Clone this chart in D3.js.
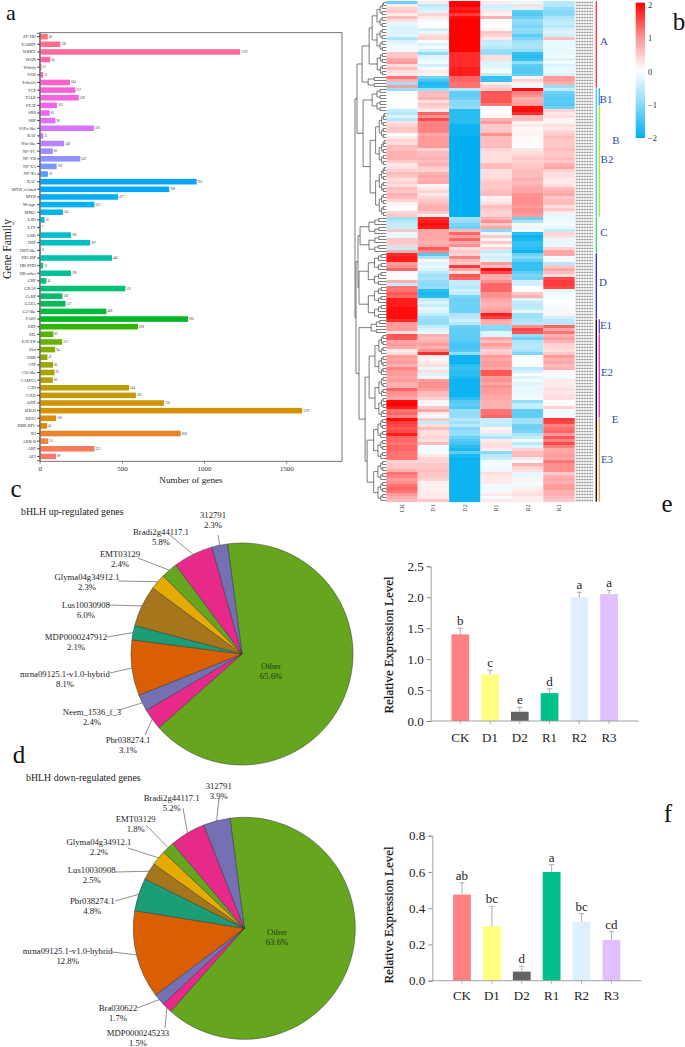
<!DOCTYPE html>
<html>
<head>
<meta charset="utf-8">
<script src="https://cdn.jsdelivr.net/npm/d3@7"></script>
<style>
  html, body { margin: 0; padding: 0; background: #fff; }
  svg { display: block; }
  text { font-family: "Liberation Serif", serif; fill: #222; }
</style>
</head>
<body>
<div id="container"></div>
<script>
// ---- panel a: number of genes per family
var families = ["ZF-HD","YABBY","WRKY","WOX","Whirly","VOZ","Trihelix","TCP","TALE","STAT","SRS","SBP","S1Fa-like","RAV",
  "Nin-like","NF-YC","NF-YB","NF-YA","NF-X1","NAC","MYB_related","MYB","M-type","MIKC","LSD","LFY","LBD","HSF","HRT-like",
  "HD-ZIP","HB-PHD","HB-other","GRF","GRAS","GeBP","GATA","G2-like","FAR1","ERF","EIL","E2F/DP","Dof","DBB","CPP","CO-like",
  "CAMTA","C3H","C2H2","bZIP","bHLH","BES1","BBR-BPC","B3","ARR-B","ARF","AP2"];
var familyCounts = [49,126,1219,64,12,21,184,217,238,105,61,96,330,21,
  148,80,247,103,50,955,788,477,333,141,30,7,190,307,8,
  440,21,190,41,521,138,157,406,903,598,83,137,94,47,82,90,
  80,544,585,756,1597,100,45,858,53,333,99];
var countTicks = [0,500,1000,1500];

// ---- panel b: heatmap, one array per sample, rows top to bottom
var heatSamples = ["CK","D1","D2","R1","R2","R3"];
var heatCK = [-1.2,.15,.4,.5,.2,.6,.3,-.2,-.3,-.3,-.3,-.25,-.7,-.3,-.15,-.1,-.1,.5,.5,.8,.9,.3,.6,.3,.2,1.2,.7,-.8,.9,-.9,
  -.03,-.03,-.03,-.03,-.03,-.05,-.5,-.6,-.3,-.6,.3,.4,.5,.5,0,.2,.4,.3,.6,.6,.7,.7,.7,.5,.2,.3,
  .4,.6,.5,.3,.4,.3,.6,.5,.7,.6,.4,.1,.05,.02,.4,.5,
  -.8,-.6,-.5,-.5,.5,-.2,-.2,.5,.5,.4,-.5,.7,
  1.7,1.8,1.8,.9,1,1.3,.05,.03,.05,.7,-.5,1.2,
  1.2,1.4,1.3,1.8,1.8,1.8,1.9,1.9,1.9,1.9,1.7,.9,.9,.9,.3,1.4,
  1.4,.8,.9,.8,.2,.3,.9,.8,.9,.7,1.1,.9,.9,.8,.9,.7,.7,1.3,1,.9,.8,1.9,2,1.8,1.2,1.3,1.1,1.9,1.6,1.5,1.4,1.5,1.8,1.3,1.3,1.2,1.3,1.3,1.2,1.2,1.2,
  .4,.5,.5,.7,1.2,1.1,.9,1,1.2,1.3,1.2,.9,.7,.6];
var heatD1 = [.2,-.6,-.4,-.3,.4,.2,-.1,0,0,-.4,-.2,.3,.4,-.05,-.3,-.1,-.4,-.9,-.3,-.2,-.1,-.4,-.1,.2,.1,-1.2,-1.5,-1.8,-1.7,-.9,
  .6,.6,.7,.3,.5,.4,.2,1.3,1,1.5,1.1,1.1,1.1,1.1,.8,.9,.9,.9,.9,.4,.6,.6,.7,.6,.7,.5,
  .4,.7,.8,.7,.8,.1,.2,.4,.2,.4,.5,.6,.7,.7,.5,.1,
  1.7,1.8,1.9,1.8,.8,.8,.8,.8,.7,.8,1.4,1.1,
  -1.4,-.7,.1,-.3,-.2,-.3,-.6,-.8,-.7,-.9,-1,-.9,
  -1.7,-1.8,-1.7,-.5,-.3,-.5,-.2,-.3,-.5,-.8,-.9,-.9,-.5,-.3,-.2,.7,
  .6,.7,.9,.7,1,1.7,.2,.1,.2,.3,-.2,.3,-.3,.1,.9,1,1,.9,.6,.6,.4,.1,-.1,.5,.8,.2,-.1,.5,-.5,.3,.6,.3,.3,.4,.3,.6,-.1,-.1,-.1,.2,.4,
  .4,.5,.5,.6,.5,.5,.4,.15,.15,.15,.15,.2,.2,.5];
var heatD2 = [2,2,1.8,1.9,1.6,1.9,2,2,2,2,2,2,2,2,2,2,2,1.7,1.7,1.7,1.7,1.7,1.8,1.8,1.8,1.3,1.3,1.2,1.2,-.6,
  -1.3,-1.3,-1.2,-1,-1,-.9,-1.7,-1.7,-1.7,-1.7,-1.7,-1.9,-1.9,-1.9,-1.9,-2,-2,-2,-2,-2,-2,-2,-2,-2,-2,-2,
  -2,-2,-2,-2,-2,-2,-2,-2,-2,-2,-2,-2,-2,-2,-2,-2,
  -.8,-.9,-1.1,-1.2,.6,1.3,.9,1.3,.8,1,.3,.5,
  .4,1.1,.6,.5,1.6,.8,.3,1.4,1.3,-.5,-.5,-.6,
  -.4,-.5,-1.1,-1.2,-1.2,-1.2,-1.2,-1.2,-.7,-.6,-.4,-.6,-1.2,-1.3,-1.3,-1.3,
  -1.3,-1.4,-1.5,-1.5,-1.4,-.9,-1.9,-1.9,-1.9,-1.7,-1.6,-1.7,-1.7,-1.8,-1.9,-1.9,-1.9,-1.9,-1.9,-1.9,-1.7,-1.4,-1.3,-1.4,-.9,-.9,-.9,-.6,-.8,-.6,-1,-.9,-.9,-1.2,-1.4,-1.5,-1.7,-1.8,-1.3,-1.8,-1.9,
  -1.9,-1.9,-1.9,-1.9,-1.9,-1.9,-1.9,-1.9,-1.9,-1.9,-1.9,-1.9,-1.9,-1.9];
var heatR1 = [.2,-.4,-.4,.2,.1,.7,0,0,0,.1,.5,.4,.2,-.5,-.5,-.6,-.9,-.9,.3,.3,-.3,-.3,-.2,0,-.5,-1.6,-1.6,.2,.4,.5,
  1.4,1.4,1.4,1.4,1.2,0,0,0,.1,.7,.9,.5,.5,.5,1,.6,.6,.6,.6,.4,.3,.3,.3,.3,.6,.6,
  .3,.3,.3,.4,.5,.5,.5,.6,.6,.1,.2,.3,.6,.5,.4,.4,
  .7,1,.5,.8,-1,-.2,.5,.1,.5,.1,.4,-.5,
  -.3,-.4,-.3,.9,.6,1.9,1.5,.8,.7,1,1.3,1.3,
  1.3,1,1,.8,.7,.7,.8,.9,1.8,1.6,.8,.7,-1,-1,-.3,-.3,
  .8,.6,.9,.7,.4,.5,.9,.8,.9,.9,.8,1.4,1.4,.9,1,.8,1,.9,.9,.8,.8,.7,.7,.7,1.2,1.2,1.3,-.5,-.5,-.5,.1,.2,-.4,-.7,.2,.3,.3,.2,-1,-.6,-.5,
  -.1,-.1,-.1,-.15,.3,.2,.2,.2,-.1,-.15,-.1,.2,-.1,.2];
var heatR2 = [-.2,.3,-.3,-1.3,-1.4,-1.2,-.9,-1,-1.1,-.9,-1,-1.3,-1.1,-.8,-.7,-.7,-.9,-1.6,-1.7,-1.6,-.9,-1.3,-1.4,-1.4,-1.3,.1,.4,.1,-.2,1.9,
  1.1,1,.7,.8,.9,1.9,1.9,1.7,.6,.6,.1,.2,.05,.1,.1,.05,.05,.03,.01,.2,.3,.4,.5,.4,.5,.5,
  .6,.6,.6,.7,.6,.7,.8,.8,1,1,1,1,.9,1,1,.9,
  -1.2,-.7,.1,-.2,-.1,-1.7,-1.9,-1.8,-1.6,-1.6,-1.7,-1.9,
  -1.2,-1,-1.3,-1.6,-1.6,-1.6,-1.3,-1.1,-1.2,-.4,-.4,0,
  0,.5,.7,-.3,-.5,-.6,-.5,-.2,-.8,-.8,-.7,-.6,1,1.5,1.4,-.9,
  -1.2,-.7,-.6,-.6,-.7,-1.1,-.03,-.03,-.03,-.05,-.6,-.4,0,-.3,-.1,-.3,-.2,-.2,-.2,-.15,-.1,-.9,-.5,-.5,-1.3,-1.3,-1.3,-.8,-.8,-1.2,-1.2,-1.1,-.7,-.5,-.1,-.6,-.3,.4,.6,.6,.2,
  0,.7,.4,.3,-.2,-.2,.1,-.1,-.1,.15,.2,.3,.15,.15];
var heatR3 = [-.6,-.6,-.9,-1,-1,-.7,-.6,-.5,-.6,-.4,-.3,-.4,.6,-.2,-.2,-.2,-.2,-.2,-.1,-.3,-.1,-.3,-.2,-.2,-.3,.9,.9,.7,-.9,-.5,
  -1.2,-1.3,-1.4,-1.3,-1.4,-1.2,.4,.2,.3,.1,.1,.3,.2,.4,.5,.6,.5,.5,.5,.6,.5,.5,.6,.5,.7,.8,
  .4,.3,.3,.2,.2,.3,.6,.7,.8,.5,.6,.6,.3,.5,.2,-.2,
  -.2,-.1,-.1,-.2,-.5,.4,.3,-.2,-.2,-.2,.4,.8,
  .8,-.1,-.1,-.6,.5,.8,.6,.3,1.5,1.6,1.6,1.5,
  -.2,-.1,-.1,-.05,0,-.05,-.1,-.1,.1,-.4,-.6,-.6,1.3,.8,1.2,.7,
  .9,.7,.4,.4,.3,.5,.9,.7,.8,.6,.7,.1,-.1,-.1,.2,.2,.2,.3,.2,.3,.3,-.05,.05,.4,-.1,-.1,-.1,1.6,1.5,1.1,1.2,1.3,.9,1.4,1.1,1.5,1.1,.8,.8,.9,.8,
  1.2,1,1,1,.5,.7,.8,.7,.9,.9,.7,.7,.6,.5];
var heatLegendTicks = [-2,-1,0,1,2];

// row clusters shown beside the heatmap
var clusterNames = ["A","B","B1","B2","C","D","E","E1","E2","E3"];
var clusterFirstRow = [0,29,29,35,72,84,106,106,111,139];
var clusterLastRow = [28,71,34,71,83,105,166,110,138,166];

// dendrogram: [height, child, child], two plain numbers = a run of rows
var dendroTree = [31,
  [29,
    [24, [17, [14,0,16], [9,17,24]], [18,25,28]],
    [23, [14,29,36], [16,37,71]]],
  [30,
    [28, [26,72,83], [27,84,105]],
    [27, [15,106,110], [21, [17,111,138], [19,139,166]]]]];

// ---- panels c and d: pie charts
var upNames = ["Other","Pbr038274.1","Neem_1536_f_3","mrna09125.1-v1.0-hybrid","MDP0000247912","Lus10030908","Glyma04g34912.1","EMT03129","Bradi2g44117.1","312791"];
var upPercent = [65.6,3.1,2.4,8.1,2.1,6.0,2.3,2.4,5.8,2.3];
var downNames = ["Other","MDP0000245233","Bra030622","mrna09125.1-v1.0-hybrid","Pbr038274.1","Lus10030908","Glyma04g34912.1","EMT03129","Bradi2g44117.1","312791"];
var downPercent = [63.6,1.5,1.7,12.8,4.8,2.5,2.2,1.8,5.2,3.9];

// ---- panels e and f: expression bars
var exprSamples = ["CK","D1","D2","R1","R2","R3"];
var exprE = [1.4,0.75,0.15,0.45,2.0,2.05];
var exprEErr = [0.1,0.07,0.07,0.07,0.08,0.06];
var exprELetters = ["b","c","e","d","a","a"];
var exprETicks = [0,0.5,1,1.5,2,2.5];
var exprF = [0.475,0.3,0.05,0.6,0.325,0.225];
var exprFErr = [0.065,0.11,0.03,0.04,0.045,0.045];
var exprFLetters = ["ab","bc","d","a","bc","cd"];
var exprFTicks = [0,0.2,0.4,0.6,0.8];

// ---- layout and styling, kept apart from the values
var width = 685, height = 1047;
var serif = "Liberation Serif";
var sliceColors = ["#66A61E","#E7298A","#7570B3","#D95F02","#1B9E77","#A6761D","#E6AB02","#66A61E","#E7298A","#7570B3"];
var barColors = ["#FF8080","#FFFF80","#636363","#00C08B","#DFEFFF","#E0C0FF"];
var clusterColors = ["#FF3838","#38D8F0","#30B4F0","#B8E820","#38E068","#3030E8","#111111","#8040F0","#F030E8","#F8A040"];

var svg = d3.select("#container").append("svg").attr("width", width).attr("height", height);

// panel letters
var panelLetters = [["a",11,19.6,22],["b",679,30,25],["c",16,497,25],["d",19,763,25],["e",667,512,25],["f",668,822,25]];
svg.selectAll(".letter").data(panelLetters).enter().append("text")
  .attr("class", "letter")
  .attr("x", function(d) { return d[1]; }).attr("y", function(d) { return d[2]; })
  .attr("text-anchor", "middle").attr("font-size", function(d) { return d[3]; }).style("fill", "#111")
  .text(function(d) { return d[0]; });

drawFamilyBars();
drawHeatmap();
drawPie(upNames, upPercent, {
  cx: 242, cy: 654, r: 111, start: -7.5,
  title: "bHLH up-regulated genes", titleX: 21, titleY: 515,
  other: [271, 669],
  // label centre and leader start, same order as the names (Other skipped)
  labels: [[128,743,145,735],[92,715,119,710],[65,677,110,673],[76,640,107,637],[86,608,108,605],[87,580,118,581],[120,557,138,558],[161,535,170,535],[213,518,218,535]]
});
drawPie(downNames, downPercent, {
  cx: 244.3, cy: 928.3, r: 111, start: -7.4,
  title: "bHLH down-regulated genes", titleX: 26, titleY: 781,
  other: [277, 935],
  labels: [[138,1036,165,1028],[118,1011,137,1008],[67.7,954,112,952],[92.3,903.7,115,901],[91.7,873,115,872],[99,845,128,848],[135.7,822,146,825],[171.7,800.7,183,808],[218.7,788.7,219,798]]
});
drawExpression({
  values: exprE, err: exprEErr, letters: exprELetters, ticks: exprETicks, max: 2.5,
  axisX: 430.7, axisEnd: 638.7, y0: 721, y1: 566.3, bandStart: 451.45, bandEnd: 617.9, catY: 742, labelCy: 645
});
drawExpression({
  values: exprF, err: exprFErr, letters: exprFLetters, ticks: exprFTicks, max: 0.8,
  axisX: 432.3, axisEnd: 641.3, y0: 980.7, y1: 835.7, bandStart: 453.1, bandEnd: 620.3, catY: 1000, labelCy: 915
});

// ggplot's default hue colours are polar LUV at C=100, L=65
function hueColor(h) {
  var L = 65, C = 100, a = h * Math.PI / 180;
  var Y = Math.pow((L + 16) / 116, 3);
  var up = C * Math.cos(a) / (13 * L) + 0.1978398;
  var vp = C * Math.sin(a) / (13 * L) + 0.4683363;
  var X = 9 * Y * up / (4 * vp);
  var Z = -X / 3 - 5 * Y + 3 * Y / vp;
  var gamma = function(c) {
    c = Math.max(0, Math.min(1, c));
    return 255 * (c <= 0.0031308 ? 12.92 * c : 1.055 * Math.pow(c, 1 / 2.4) - 0.055);
  };
  return d3.rgb(
    gamma(3.2406 * X - 1.5372 * Y - 0.4986 * Z),
    gamma(-0.9689 * X + 1.8758 * Y + 0.0415 * Z),
    gamma(0.0557 * X - 0.2040 * Y + 1.0570 * Z)
  ) + "";
}

function drawFamilyBars() {
  var x = d3.scaleLinear().domain([0, 1839]).range([39.7, 342]);
  var y = d3.scaleBand().domain(families).range([32.9, 460.2]).paddingInner(0.27).paddingOuter(0.13);

  // hue wheel runs from the bottom row up
  var hue = function(i) {
    var k = families.length - 1 - i;
    return hueColor(15 + 360 * k / families.length);
  };

  svg.append("rect").attr("x", 39.7).attr("y", 32.7).attr("width", 302.3).attr("height", 428.6)
    .attr("fill", "none").attr("stroke", "#555").attr("stroke-width", 0.8);

  svg.selectAll(".fam").data(families).enter().append("rect")
    .attr("class", "fam")
    .attr("x", x(0))
    .attr("y", function(d) { return y(d); })
    .attr("width", function(d, i) { return x(familyCounts[i]) - x(0); })
    .attr("height", y.bandwidth())
    .attr("fill", function(d, i) { return hue(i); });

  svg.selectAll(".famv").data(families).enter().append("text")
    .attr("class", "famv")
    .attr("x", function(d, i) { return x(familyCounts[i]) + 1; })
    .attr("y", function(d) { return y(d) + y.bandwidth() / 2 + 1; })
    .attr("font-size", 3.2).style("fill", "#333")
    .text(function(d, i) { return familyCounts[i]; });

  var left = svg.append("g").attr("transform", "translate(39.7,0)")
    .call(d3.axisLeft(y).tickSize(2.5).tickPadding(1.2));
  left.select(".domain").attr("stroke", "#777").attr("stroke-width", 1.2);
  left.selectAll("text").attr("font-size", 4.4).attr("font-family", serif).style("fill", "#333");
  left.selectAll("line").attr("stroke", "#222").attr("stroke-width", 0.9);

  var bottom = svg.append("g").attr("transform", "translate(0,461.3)")
    .call(d3.axisBottom(x).tickValues(countTicks).tickSize(2.5).tickPadding(2).tickFormat(d3.format("d")));
  bottom.select(".domain").remove();
  bottom.selectAll("text").attr("font-size", 7).attr("font-family", serif).style("fill", "#333");
  bottom.selectAll("line").attr("stroke", "#444").attr("stroke-width", 0.6);

  svg.append("text").attr("x", 191).attr("y", 483).attr("text-anchor", "middle")
    .attr("font-size", 9.2).text("Number of genes");
  svg.append("text").attr("transform", "translate(10.5,249) rotate(-90)").attr("text-anchor", "middle")
    .attr("font-size", 11.6).text("Gene Family");
}

function drawHeatmap() {
  var columns = [heatCK, heatD1, heatD2, heatR1, heatR2, heatR3];
  var rows = d3.range(heatCK.length);
  var x = d3.scaleBand().domain(heatSamples).range([386.3, 574.7]);
  var y = d3.scaleBand().domain(rows).range([1, 502]);
  var color = d3.scaleLinear().domain([-2, -1, 0, 1, 2])
    .range(["#00B0F0", "#88DAF8", "#FFFFFF", "#FF9090", "#FF0000"]);

  var defs = svg.append("defs");
  // the source is a soft raster, rows bleed into each other a little
  defs.append("filter").attr("id", "soft").attr("x", "-2%").attr("y", "-2%").attr("width", "104%").attr("height", "104%")
    .append("feGaussianBlur").attr("stdDeviation", "0.25 0.45");

  var cells = svg.append("g").attr("filter", "url(#soft)");
  columns.forEach(function(values, c) {
    cells.append("g").selectAll("rect").data(values).enter().append("rect")
      .attr("x", x(heatSamples[c]))
      .attr("y", function(d, r) { return y(r); })
      .attr("width", x.bandwidth())
      .attr("height", y.bandwidth() + 0.15)
      .attr("fill", function(d) { return color(d); });
  });

  // row labels are too small to read in the source, so they stay a grey strip
  svg.append("g").selectAll("line").data(rows).enter().append("line")
    .attr("x1", 575.7).attr("x2", 593.3)
    .attr("y1", function(r) { return y(r) + y.bandwidth() / 2; })
    .attr("y2", function(r) { return y(r) + y.bandwidth() / 2; })
    .attr("stroke", "#8a8a8a").attr("stroke-width", 1.7).attr("stroke-dasharray", "1.1 0.5");

  // sample names below the heatmap
  svg.selectAll(".sample").data(heatSamples).enter().append("text")
    .attr("class", "sample")
    .attr("transform", function(d) { return "translate(" + (x(d) + x.bandwidth() / 2 + 2) + ",508) rotate(-90)"; })
    .attr("text-anchor", "middle").attr("font-size", 6).style("fill", "#333")
    .text(function(d) { return d; });

  // dendrogram
  var h = d3.scaleLinear().domain([0, 31]).range([386.3, 355]);
  var rowY = function(r) { return y(r) + y.bandwidth() / 2; };
  var segs = [];
  function walk(node) {
    var ht = node[0], a, b;
    if (typeof node[1] === "number") {
      var from = node[1], to = node[2];
      if (from === to) return { y: rowY(from), h: 0 };
      var mid = Math.floor((from + to) / 2);
      a = walk([ht * 0.66, from, mid]);
      b = walk([ht * 0.66, mid + 1, to]);
    } else {
      a = walk(node[1]);
      b = walk(node[2]);
    }
    segs.push([h(ht), a.y, h(ht), b.y]);
    segs.push([h(ht), a.y, h(a.h), a.y]);
    segs.push([h(ht), b.y, h(b.h), b.y]);
    return { y: (a.y + b.y) / 2, h: ht };
  }
  walk(dendroTree);
  svg.append("g").selectAll("line").data(segs).enter().append("line")
    .attr("x1", function(d) { return d[0]; }).attr("y1", function(d) { return d[1]; })
    .attr("x2", function(d) { return d[2]; }).attr("y2", function(d) { return d[3]; })
    .attr("stroke", "#444").attr("stroke-width", 0.7);

  // cluster bars; first level is the outer bar, second level sits next to it
  var inner = ["B1","B2","E1","E2","E3"];
  svg.selectAll(".clusterbar").data(clusterNames).enter().append("rect")
    .attr("class", "clusterbar")
    .attr("x", function(d) { return inner.indexOf(d) >= 0 ? 598.6 : 595.6; })
    .attr("y", function(d, i) { return y(clusterFirstRow[i]) + 0.3; })
    .attr("width", 1.4)
    .attr("height", function(d, i) { return y(clusterLastRow[i]) + y.bandwidth() - y(clusterFirstRow[i]) - 0.6; })
    .attr("fill", function(d, i) { return clusterColors[i]; });

  var clusterPos = {A:[604,45],B:[616,144],B1:[606,103],B2:[607,163],C:[604,236],D:[603,286],E:[615,423],E1:[606,329],E2:[607,376],E3:[607,463]};
  svg.selectAll(".clustername").data(clusterNames).enter().append("text")
    .attr("class", "clustername")
    .attr("x", function(d) { return clusterPos[d][0]; })
    .attr("y", function(d) { return clusterPos[d][1]; })
    .attr("text-anchor", "middle").attr("font-size", 11).style("fill", "#2F4FA0")
    .text(function(d) { return d; });

  // colour legend
  var legend = d3.scaleLinear().domain([-2, 2]).range([137, 4.3]);
  var grad = defs.append("linearGradient").attr("id", "heatgrad")
    .attr("x1", 0).attr("x2", 0).attr("y1", 1).attr("y2", 0);
  [-2, -1, 0, 1, 2].forEach(function(v) {
    grad.append("stop").attr("offset", (v + 2) / 4).attr("stop-color", color(v));
  });
  svg.append("rect").attr("x", 635.7).attr("y", 2.7).attr("width", 9.3).attr("height", 135.3).attr("fill", "url(#heatgrad)");
  var la = svg.append("g").attr("transform", "translate(645,0)")
    .call(d3.axisRight(legend).tickValues(heatLegendTicks).tickSize(0).tickPadding(3).tickFormat(d3.format("d")));
  la.select(".domain").remove();
  la.selectAll("text").attr("font-size", 8.5).attr("dy", "0.4em").attr("font-family", serif).style("fill", "#333");
}

function drawPie(names, percents, o) {
  var start = o.start * Math.PI / 180;
  var pie = d3.pie().sort(null).startAngle(start).endAngle(start + 2 * Math.PI);
  var arcs = pie(percents);
  var arc = d3.arc().innerRadius(0).outerRadius(o.r);
  var edge = d3.arc().innerRadius(o.r).outerRadius(o.r);
  var g = svg.append("g").attr("transform", "translate(" + o.cx + "," + o.cy + ")");

  g.selectAll("path").data(arcs).enter().append("path")
    .attr("d", arc)
    .attr("fill", function(d, i) { return sliceColors[i]; })
    .attr("stroke", "#333").attr("stroke-width", 0.5);

  svg.append("text").attr("x", o.titleX).attr("y", o.titleY).attr("font-size", 9.9).text(o.title);

  // Other sits inside its slice
  var other = svg.append("text").attr("text-anchor", "middle").attr("font-size", 8.7).style("fill", "#1f3a10");
  other.append("tspan").attr("x", o.other[0]).attr("y", o.other[1]).text(names[0]);
  other.append("tspan").attr("x", o.other[0]).attr("y", o.other[1] + 9.6).text(percents[0].toFixed(1) + "%");

  o.labels.forEach(function(p, n) {
    var i = n + 1;
    var end = edge.centroid(arcs[i]);
    svg.append("line")
      .attr("x1", p[2]).attr("y1", p[3])
      .attr("x2", o.cx + end[0]).attr("y2", o.cy + end[1])
      .attr("stroke", "#444").attr("stroke-width", 0.6);
    var t = svg.append("text").attr("text-anchor", "middle").attr("font-size", 8.7);
    t.append("tspan").attr("x", p[0]).attr("y", p[1]).text(names[i]);
    t.append("tspan").attr("x", p[0]).attr("y", p[1] + 9.8).text(percents[i].toFixed(1) + "%");
  });
}

function drawExpression(o) {
  var x = d3.scaleBand().domain(exprSamples).range([o.bandStart, o.bandEnd]).paddingInner(0.405);
  var y = d3.scaleLinear().domain([0, o.max]).range([o.y0, o.y1]);

  svg.append("g").selectAll("rect").data(o.values).enter().append("rect")
    .attr("x", function(d, i) { return x(exprSamples[i]); })
    .attr("y", function(d) { return y(d); })
    .attr("width", x.bandwidth())
    .attr("height", function(d) { return y(0) - y(d); })
    .attr("fill", function(d, i) { return barColors[i]; });

  // error bars, upper whisker only
  var cx = function(i) { return x(exprSamples[i]) + x.bandwidth() / 2; };
  var eb = svg.append("g").attr("stroke", "#999").attr("stroke-width", 0.8);
  o.values.forEach(function(v, i) {
    var top = y(v + o.err[i]);
    eb.append("line").attr("x1", cx(i)).attr("x2", cx(i)).attr("y1", y(v)).attr("y2", top);
    eb.append("line").attr("x1", cx(i) - 2.6).attr("x2", cx(i) + 2.6).attr("y1", top).attr("y2", top);
  });

  svg.append("g").selectAll("text").data(o.letters).enter().append("text")
    .attr("x", function(d, i) { return cx(i); })
    .attr("y", function(d, i) { return y(o.values[i] + o.err[i]) - 3; })
    .attr("text-anchor", "middle").attr("font-size", 13).style("fill", "#222")
    .text(function(d) { return d; });

  var left = svg.append("g").attr("transform", "translate(" + o.axisX + ",0)")
    .call(d3.axisLeft(y).tickValues(o.ticks).tickSize(4).tickPadding(3).tickFormat(d3.format(".1f")));
  left.select(".domain").attr("stroke", "#999").attr("stroke-width", 0.9);
  left.selectAll("line").attr("stroke", "#777").attr("stroke-width", 0.8);
  left.selectAll("text").attr("font-size", 13).attr("font-family", serif).style("fill", "#222");

  var bottom = svg.append("g").attr("transform", "translate(0," + o.y0 + ")");
  bottom.append("line").attr("x1", o.axisX).attr("x2", o.axisEnd).attr("stroke", "#999").attr("stroke-width", 0.9);
  exprSamples.forEach(function(s, i) {
    bottom.append("line").attr("x1", cx(i)).attr("x2", cx(i)).attr("y1", 0).attr("y2", 3).attr("stroke", "#999").attr("stroke-width", 0.8);
  });
  svg.append("g").selectAll("text").data(exprSamples).enter().append("text")
    .attr("x", function(d, i) { return cx(i); })
    .attr("y", o.catY)
    .attr("text-anchor", "middle").attr("font-size", 13).style("fill", "#222")
    .text(function(d) { return d; });

  svg.append("text").attr("transform", "translate(393," + o.labelCy + ") rotate(-90)")
    .attr("text-anchor", "middle").attr("font-size", 13).style("fill", "#111")
    .attr("stroke", "#111").attr("stroke-width", 0.2)
    .text("Relative Expression Level");
}
</script>
</body>
</html>
